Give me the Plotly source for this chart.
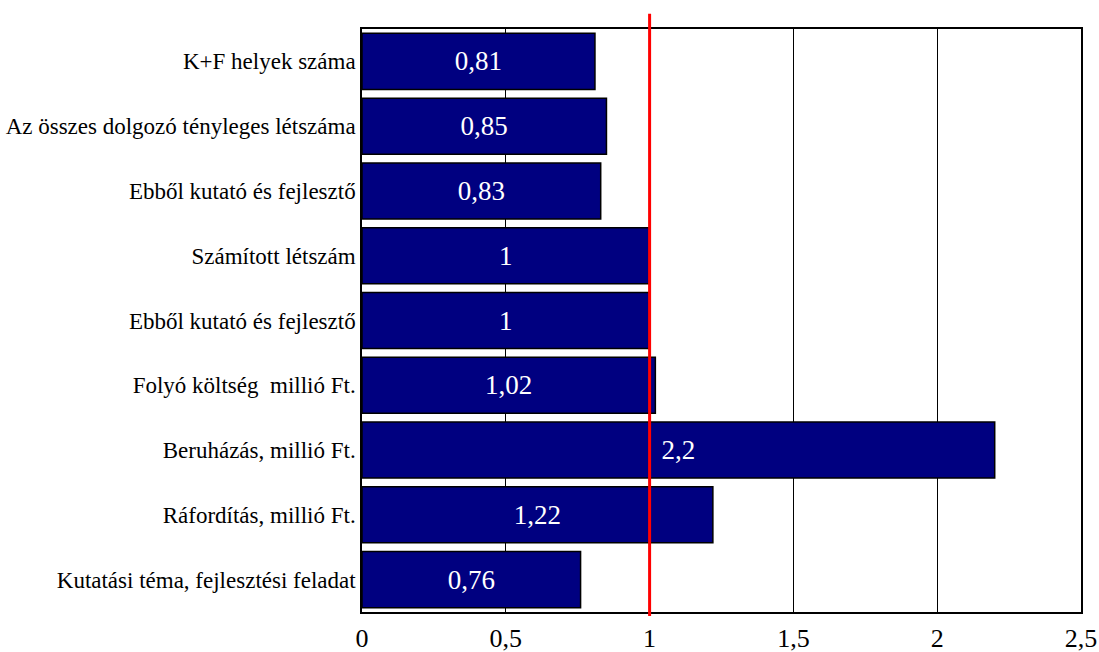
"""Horizontal bar chart of K+F ratios with a reference line at 1."""
import plotly.graph_objects as go

categories = [
    "K+F helyek száma",
    "Az összes dolgozó tényleges létszáma",
    "Ebből kutató és fejlesztő",
    "Számított létszám",
    "Ebből kutató és fejlesztő",
    "Folyó költség\u00a0 millió Ft.",
    "Beruházás, millió Ft.",
    "Ráfordítás, millió Ft.",
    "Kutatási téma, fejlesztési feladat",
]
values = [0.81, 0.85, 0.83, 1, 1, 1.02, 2.2, 1.22, 0.76]
x_ticks = [0, 0.5, 1, 1.5, 2, 2.5]
reference = 1

positions = list(range(len(categories)))

fig = go.Figure()
fig.add_trace(go.Bar(
    x=values, y=positions, orientation="h",
    width=0.865,
    marker=dict(color="#000080", line=dict(color="black", width=1.5)),
    text=values, texttemplate="%{x}",
    textposition="inside", insidetextanchor="middle",
    textfont=dict(color="white", size=27, family="Liberation Serif"),
    hoverinfo="skip",
))
fig.add_shape(
    type="line", xref="x", yref="paper",
    x0=reference, x1=reference, y0=-0.007, y1=1.026,
    line=dict(color="red", width=3),
)
fig.update_layout(
    width=1099, height=652,
    margin=dict(l=362, r=18, t=29, b=40),
    separators=",.",
    showlegend=False,
    plot_bgcolor="white",
    paper_bgcolor="white",
    font=dict(family="Liberation Serif", color="black"),
    xaxis=dict(
        range=[0, 2.5], tickvals=x_ticks,
        showgrid=True, gridcolor="black", gridwidth=1,
        showline=True, linecolor="black", linewidth=1.5, mirror=True,
        zeroline=False, ticks="", ticklabelstandoff=2,
        tickfont=dict(size=26), automargin=False,
    ),
    yaxis=dict(
        range=[8.5, -0.5],
        tickvals=positions, ticktext=categories,
        showgrid=False, zeroline=False,
        showline=True, linecolor="black", linewidth=1.5, mirror=True,
        ticks="", ticklabelstandoff=0,
        tickfont=dict(size=23), automargin=False,
    ),
)
fig.write_html(
    "out.html",
    config={"displayModeBar": False},
    post_script="document.body.style.margin = '0';",
)
